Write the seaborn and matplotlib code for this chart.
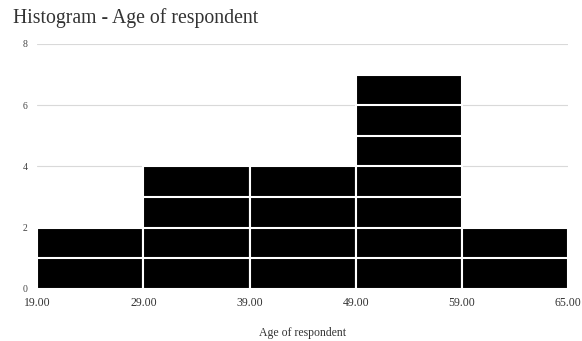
import matplotlib
matplotlib.use("Agg")
import matplotlib.pyplot as plt
import seaborn as sns
import pandas as pd

# Bin edges and counts
bin_edges = ["19.00", "29.00", "39.00", "49.00", "59.00", "65.00"]
bin_labels = ["19-29", "29-39", "39-49", "49-59", "59-65"]
counts = [2, 4, 4, 7, 2]

df = pd.DataFrame({"bin": bin_labels, "count": counts})

sns.set_style("white")
plt.rcParams["font.family"] = ["Liberation Serif", "DejaVu Serif"]

fig = plt.figure(figsize=(5.82, 3.41), dpi=100)
ax = fig.add_axes([0.064, 0.1525, 0.912, 0.7185])

# light horizontal gridlines
for y in range(0, 9, 2):
    ax.axhline(y, color="#d9d9d9" if y else "#bdbdbd", lw=0.8, zorder=0)

sns.barplot(data=df, x="bin", y="count", color="black", width=1.0,
            edgecolor="white", linewidth=1.5, saturation=1, ax=ax, zorder=2)

# white separators between individual items in each bar
for i, c in enumerate(counts):
    for k in range(1, c):
        ax.hlines(k, i - 0.5, i + 0.5, color="white", lw=1.5, zorder=3)

ax.set_xlim(-0.5, len(counts) - 0.5)
ax.set_ylim(0, 8)
ax.set_xticks([i - 0.5 for i in range(len(bin_edges))])
ax.set_xticklabels(bin_edges, fontsize=8.5, color="#333333")
ax.set_yticks(range(0, 9, 2))
ax.set_yticklabels([str(v) for v in range(0, 9, 2)], fontsize=7, color="#444444")
ax.tick_params(axis="both", length=0)
ax.tick_params(axis="x", pad=6)
ax.tick_params(axis="y", pad=7)
for s in ax.spines.values():
    s.set_visible(False)

ax.set_xlabel("Age of respondent", fontsize=8.5, color="#333333", labelpad=13)
ax.set_ylabel("")

fig.text(0.022, 0.948, "Histogram - Age of respondent", fontsize=14.2,
         color="#333333", ha="left", va="center")

fig.savefig("out.png", dpi=100)
